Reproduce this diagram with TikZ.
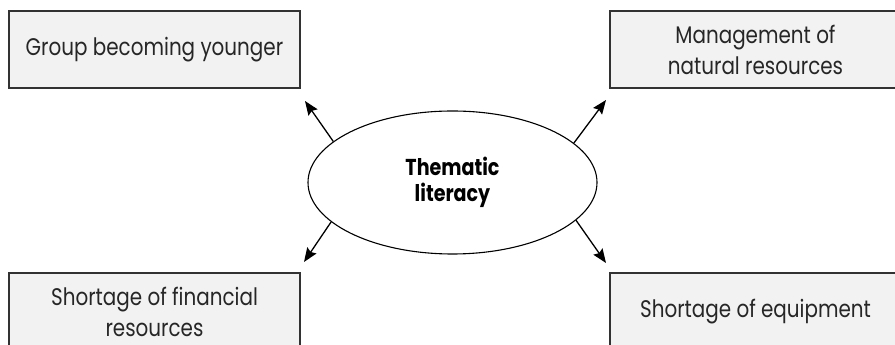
\documentclass[tikz,border=0pt]{standalone}
\usepackage{fontspec}
\setmainfont[FakeStretch=0.83]{Poppins}
\usetikzlibrary{shapes.geometric,arrows.meta}
\definecolor{boxfill}{RGB}{242,242,242}
\definecolor{boxline}{RGB}{50,50,50}
\tikzset{
  topic/.style={draw=boxline, line width=1.4pt, fill=boxfill, minimum width=291pt, minimum height=77pt, inner sep=0pt, align=center, font=\fontsize{24}{31}\selectfont, text=black!85},
  hub/.style={draw=black, line width=1.1pt, ellipse, minimum width=289pt, minimum height=143pt, inner sep=0pt, align=center, font=\fontsize{23}{26}\selectfont\bfseries},
  link/.style={draw=black, line width=1.3pt, -{Stealth[length=14pt,width=11pt,inset=2pt]}}
}
\begin{document}
\begin{tikzpicture}[x=1pt,y=1pt]
\useasboundingbox (0,0) rectangle (895,345);
\clip (0,0) rectangle (895,345);
\node[topic] (gy) at (154.5,295.5) {Group becoming younger};
\node[topic] (nr) at (755.5,295.5) {Management of\\natural resources};
\node[topic] (fr) at (154.5,33.5) {Shortage of financial\\resources};
\node[topic] (eq) at (755.5,33.5) {Shortage of equipment};
\node[hub] (c) at (452.5,162.5) {Thematic\\literacy};
\coordinate (t1) at (305,244);
\coordinate (t2) at (606,245);
\coordinate (t3) at (304,83);
\coordinate (t4) at (606,82);
\draw[link] (c.161) -- (t1);
\draw[link] (c.18) -- (t2);
\draw[link] (c.198.5) -- (t3);
\draw[link] (c.-17) -- (t4);
\end{tikzpicture}
\end{document}
